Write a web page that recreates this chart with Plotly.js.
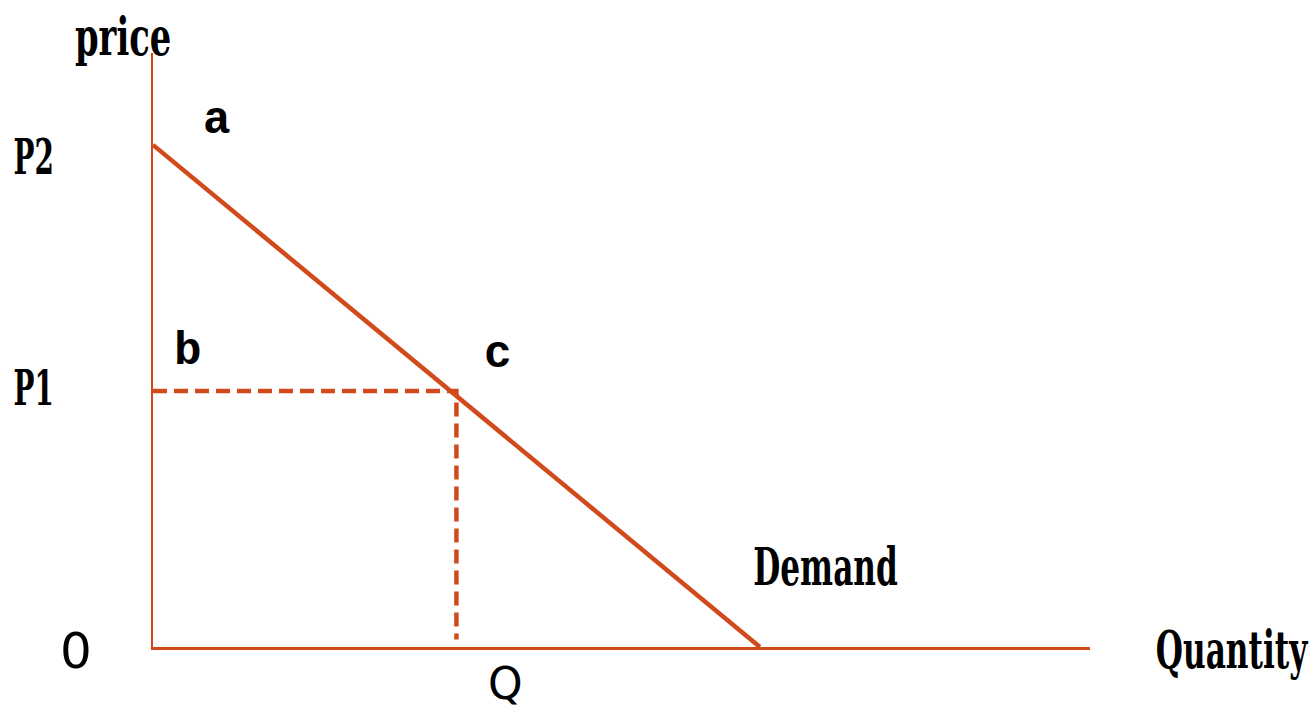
<!DOCTYPE html>
<html>
<head>
<meta charset="utf-8">
<script src="https://cdn.plot.ly/plotly-3.0.1.min.js"></script>
<style>
html,body{margin:0;padding:0;background:#fff;}
#chart{width:1312px;height:711px;}
</style>
</head>
<body>
<div id="chart"></div>
<script>
// Data
const demandQ = [0, 10];
const demandP = [10, 0];
const Q1 = 5;
const P1 = 5.1;
const P2 = 10;
const labelText = ["price", "a", "P2", "b", "c", "P1", "0", "Q", "Demand", "Quantity"];
const labelStyle = ["cond", "mono", "condS", "mono", "mono", "condS", "zero", "qfont", "cond", "cond"];
// label placement (paper fractions) and horizontal squeeze
const labelPX = [-0.032, 0.0683, -0.127, 0.0374, 0.3682, -0.127, -0.0822, 0.3757, 0.7172, 1.1515];
const labelPY = [1.0286, 0.8855, 0.8249, 0.4966, 0.4916, 0.436, -0.0067, -0.062, 0.1347, -0.005];
const labelSqueeze = [0.65, 1, 0.58, 1, 1, 0.58, 1, 1, 0.60, 0.60];

const col = "#D14A1C";
const fonts = {
  cond: {family: "DejaVu Serif", size: 52, color: "#000", weight: "bold"},
  condS: {family: "DejaVu Serif", size: 48, color: "#000", weight: "bold"},
  mono: {family: "Liberation Mono, monospace", size: 46, color: "#000", weight: "bold"},
  zero: {family: "DejaVu Sans, sans-serif", size: 50, color: "#000"},
  qfont: {family: "DejaVu Sans, sans-serif", size: 44, color: "#000"}
};

const traces = [
  {x: demandQ, y: demandP, mode: "lines", line: {color: col, width: 4.5}, hoverinfo: "skip"},
  {x: [0, Q1, Q1], y: [P1, P1, 0.15], mode: "lines", line: {color: col, width: 4.5, dash: "14px,7px"}, hoverinfo: "skip"}
];

const annotations = labelText.map((t, i) => ({
  x: labelPX[i], y: labelPY[i], xref: "paper", yref: "paper", text: t, showarrow: false,
  xanchor: "center", yanchor: "middle", font: fonts[labelStyle[i]]
}));

const layout = {
  width: 1312, height: 711,
  margin: {l: 153, r: 222, t: 53, b: 64},
  paper_bgcolor: "#fff", plot_bgcolor: "#fff",
  showlegend: false,
  xaxis: {range: [0, 15.44], showline: true, linecolor: col, linewidth: 2.5, showgrid: false, zeroline: false, showticklabels: false, ticks: "", fixedrange: true},
  yaxis: {range: [0, 11.83], showline: true, linecolor: col, linewidth: 2.5, showgrid: false, zeroline: false, showticklabels: false, ticks: "", fixedrange: true},
  annotations: annotations
};

Plotly.newPlot("chart", traces, layout, {displayModeBar: false, staticPlot: true}).then(() => {
  const texts = document.querySelectorAll("#chart .annotation-text");
  texts.forEach((el, i) => {
    const s = labelSqueeze[i];
    if (s !== undefined && s !== 1) {
      el.style.transformBox = "fill-box";
      el.style.transformOrigin = "center";
      el.style.transform = "scaleX(" + s + ")";
    }
  });
});
</script>
</body>
</html>
